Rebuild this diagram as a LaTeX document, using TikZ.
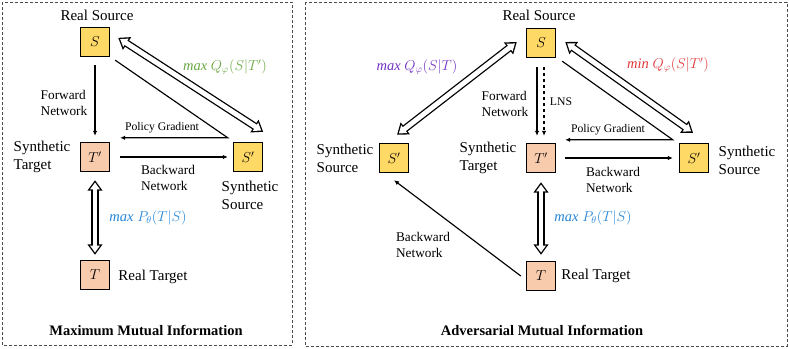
\documentclass[tikz,border=0pt]{standalone}
\usepackage{fontspec}
\setmainfont{Liberation Serif}
\usetikzlibrary{arrows.meta}
\definecolor{src-yellow}{HTML}{FFD966}
\definecolor{tgt-peach}{HTML}{F8CBAD}
\definecolor{mi-green}{HTML}{6AA842}
\definecolor{mi-blue}{HTML}{2585D6}
\definecolor{mi-purple}{HTML}{7232C4}
\definecolor{mi-red}{HTML}{E0383A}

\begin{document}
\begin{tikzpicture}[x=1pt,y=-1pt,>={Latex[length=5pt,width=4.5pt]},
  box/.style={draw,line width=1.4pt,minimum size=29pt,inner sep=0pt,font=\fontsize{14}{16}\selectfont},
  src/.style={box,fill=src-yellow},
  tgt/.style={box,fill=tgt-peach},
  lbl/.style={font=\fontsize{15}{18}\selectfont,align=left,inner sep=1pt},
  net/.style={font=\fontsize{13.3}{16}\selectfont,align=left,inner sep=1pt},
  small/.style={font=\fontsize{11.7}{14}\selectfont,inner sep=1pt},
  obj/.style={font=\fontsize{14.5}{16}\selectfont,inner sep=1pt},
  flow/.style={->,line width=1.15pt},
  hollow/.style={preaction={draw=black,line width=7.5pt,shorten <=0pt,shorten >=0pt,
      {Triangle[length=10.5pt,width=14.5pt]}-{Triangle[length=10.5pt,width=14.5pt]}},
    draw=white,line width=4.9pt,shorten <=2.3pt,shorten >=2.3pt,
    {Triangle[length=6.9pt,width=9.5pt]}-{Triangle[length=6.9pt,width=9.5pt]}},
  frame/.style={dash pattern=on 3pt off 2pt,line width=0.7pt,black!70}]
  \useasboundingbox (0,0) rectangle (789,348);
  % Rammer
  \draw[frame] (2,2) rectangle (292,345);
  \draw[frame] (305,2) rectangle (787,346);

  % Venstre: Maximum Mutual Information
  \node[src] (S1) at (95,42) {$S$};
  \node[tgt] (Tp1) at (95,157) {$T'$};
  \node[src] (Sp1) at (248,157) {$S'$};
  \node[tgt] (T1) at (95,275) {$T$};
  % Tekster
  \node[lbl] (rs1) at (97,15) {Real Source};
  \node[lbl] (st1) at (42,157) {Synthetic\\Target};
  \node[lbl] (ss1) at (250,195) {Synthetic\\Source};
  \node[lbl] (rt1) at (153,277) {Real Target};
  \node[net] (fn1) at (64,103) {Forward\\Network};
  \node[small] (pg1txt) at (162,128) {Policy Gradient};
  \node[net] (bn1) at (168,178) {Backward\\Network};
  \node[obj,text=mi-green] (q1) at (225,67) {\textit{max} $Q_{\varphi}(S|T')$};
  \node[obj,text=mi-blue] (p1) at (148,218) {\textit{max} $P_{\theta}(T|S)$};
  \node[font=\bfseries\fontsize{14.5}{16}\selectfont] (ttl1) at (146,330) {Maximum Mutual Information};
  % Pile
  \coordinate (pg1) at ([shift={(-5,-4)}]Sp1.north west);
  \draw[flow,shorten <=8pt,shorten >=6pt] (S1) -- (Tp1);
  \draw[flow] ([shift={(5,3)}]S1.south east) -- (pg1) -- ([xshift=10pt]pg1 -| Tp1.east);
  \draw[flow] ([xshift=10pt]Tp1.east) -- ([xshift=-5pt]Sp1.west);
  \draw[hollow] ([shift={(8,11)}]S1.north east) -- ([shift={(0,-10)}]Sp1.north east);
  \draw[hollow] ([shift={(0,8)}]Tp1.south) -- ([shift={(0,-5)}]T1.north);

  % Hoejre: Adversarial Mutual Information
  \node[src] (S2) at (541,43) {$S$};
  \node[tgt] (Tp2) at (541,158) {$T'$};
  \node[tgt] (T2) at (541,276) {$T$};
  \node[src] (SpL) at (394,158) {$S'$};
  \node[src] (SpR) at (694,158) {$S'$};
  % Tekster
  \node[lbl] (rs2) at (539,15) {Real Source};
  \node[lbl] (ssL) at (345,158) {Synthetic\\Source};
  \node[lbl] (st2) at (488,158) {Synthetic\\Target};
  \node[lbl] (ssR) at (747,160) {Synthetic\\Source};
  \node[lbl] (rt2) at (596,276) {Real Target};
  \node[net] (fn2) at (505,104) {Forward\\Network};
  \node[small] (lns) at (561,102) {LNS};
  \node[small] (pg2txt) at (608,130) {Policy Gradient};
  \node[net] (bn2) at (613,180) {Backward\\Network};
  \node[net] (bn3) at (423,245) {Backward\\Network};
  \node[obj,text=mi-purple] (q2) at (417,67) {\textit{max} $Q_{\varphi}(S|T)$};
  \node[obj,text=mi-red] (q3) at (668,65) {\textit{min} $Q_{\varphi}(S|T')$};
  \node[obj,text=mi-blue] (p2) at (593,218) {\textit{max} $P_{\theta}(T|S)$};
  \node[font=\bfseries\fontsize{14.5}{16}\selectfont] (ttl2) at (542,330) {Adversarial Mutual Information};
  % Pile
  \coordinate (pg2) at ([shift={(-6,-3)}]SpR.north west);
  \draw[flow,shorten <=9pt,shorten >=7pt] ([xshift=-4pt]S2.south) -- ([xshift=-4pt]Tp2.north);
  \draw[flow,dashed,shorten <=9pt,shorten >=7pt] ([xshift=3pt]S2.south) -- ([xshift=3pt]Tp2.north);
  \draw[flow] ([shift={(6,3)}]S2.south east) -- (pg2) -- ([xshift=9pt]pg2 -| Tp2.east);
  \draw[flow] ([xshift=9pt]Tp2.east) -- ([xshift=-6pt]SpR.west);
  \draw[flow] ([xshift=-5pt]T2.west) -- ([shift={(0,7)}]SpL.south);
  \draw[hollow] ([shift={(-9,-1)}]S2.west) -- ([shift={(3,-8)}]SpL.north);
  \draw[hollow] ([shift={(9,-1)}]S2.east) -- ([shift={(-1,-10)}]SpR.north);
  \draw[hollow] ([shift={(0,9)}]Tp2.south) -- ([shift={(0,-6)}]T2.north);
\end{tikzpicture}
\end{document}
